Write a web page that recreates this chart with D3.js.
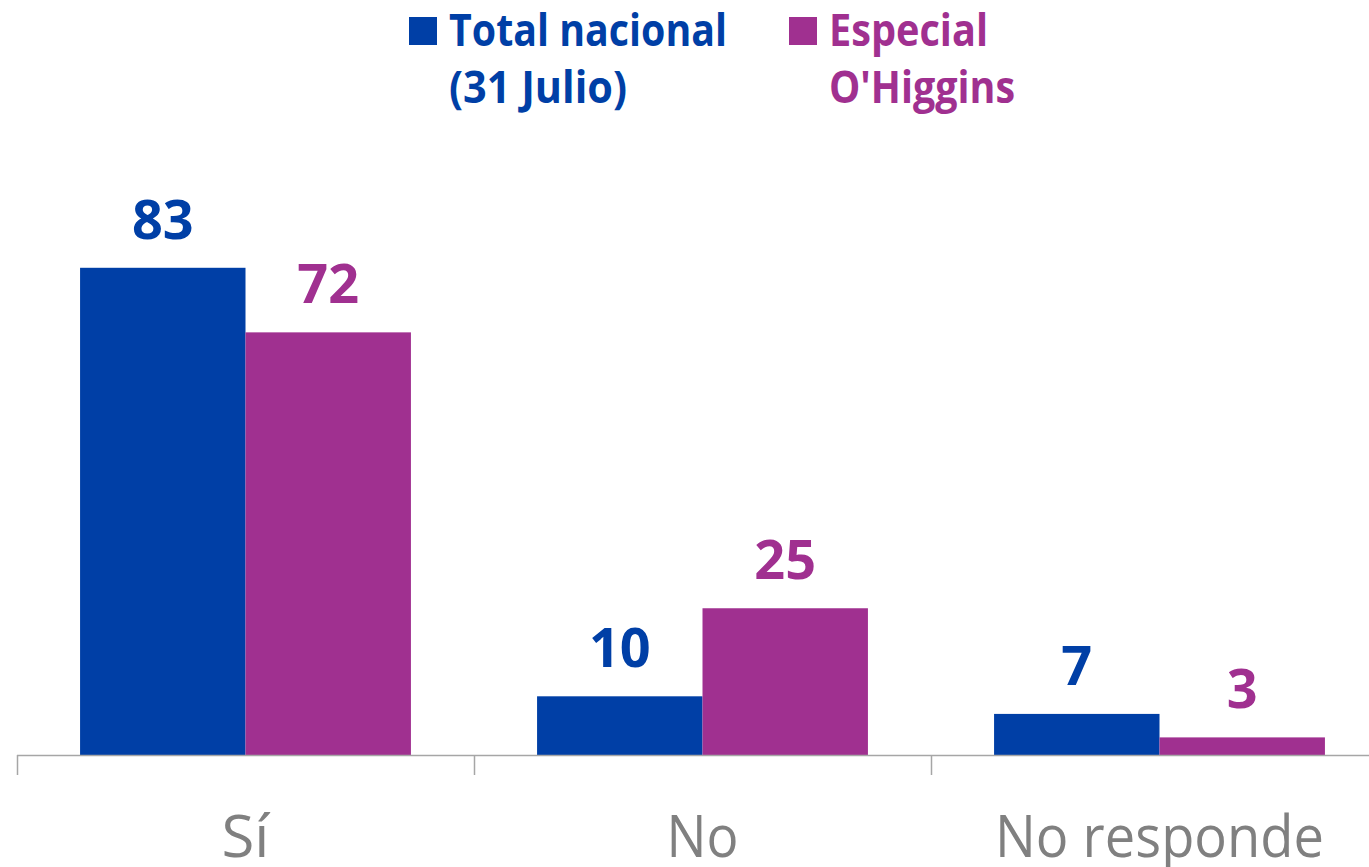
<!DOCTYPE html>
<html><head><meta charset="utf-8">
<script src="https://cdn.jsdelivr.net/npm/d3@7"></script>
<style>body{margin:0;background:#fff}svg{display:block}</style>
</head><body>
<script>
const categories = ["Sí", "No", "No responde"];
const seriesNames = [["Total nacional", "(31 Julio)"], ["Especial", "O'Higgins"]];
const totalNacional = [83, 10, 7];
const especialOHiggins = [72, 25, 3];
const colors = ["#003FA6", "#A03090"];

const W = 1369, H = 867;
const svg = d3.select("body").append("svg").attr("width", W).attr("height", H);
const font = "'Open Sans', 'Liberation Sans', sans-serif";

const x = d3.scaleBand().domain(categories).range([17, 17 + 3 * 457]).paddingInner(0.276).paddingOuter(0.138);
const xs = d3.scaleBand().domain([0, 1]).range([0, x.bandwidth()]);
const y = d3.scaleLinear().domain([0, 100]).range([755, 755 - 587]);

const series = [totalNacional, especialOHiggins];

series.forEach((vals, si) => {
  svg.append("g").selectAll("rect").data(vals).join("rect")
    .attr("x", (d, i) => x(categories[i]) + xs(si))
    .attr("y", d => y(d))
    .attr("width", xs.bandwidth())
    .attr("height", d => y(0) - y(d))
    .attr("fill", colors[si]);
  svg.append("g").selectAll("text").data(vals).join("text")
    .attr("x", (d, i) => x(categories[i]) + xs(si) + xs.bandwidth() / 2)
    .attr("y", d => y(d) - 29)
    .attr("text-anchor", "middle")
    .attr("font-family", font).attr("font-weight", 700).attr("font-size", 54)
    .attr("fill", colors[si])
    .text(d => d);
});

// axis
const axis = svg.append("g");
axis.append("line").attr("x1", 17).attr("x2", W).attr("y1", 755.5).attr("y2", 755.5)
  .attr("stroke", "#A6A6A6").attr("stroke-width", 1.5);
const tickPos = categories.map(c => x(c) - x.step() * x.paddingOuter());
axis.selectAll("line.t").data(tickPos).join("line").attr("class", "t")
  .attr("x1", d => d + 0.5).attr("x2", d => d + 0.5).attr("y1", 755).attr("y2", 775)
  .attr("stroke", "#A6A6A6").attr("stroke-width", 1.5);
const labelWidths = [48, 72, 329];
axis.selectAll("text").data(categories).join("text")
  .attr("x", d => x(d) + x.bandwidth() / 2)
  .attr("y", 857)
  .attr("text-anchor", "middle")
  .attr("font-family", font).attr("font-size", 58)
  .attr("fill", "#808080")
  .attr("textLength", (d, i) => labelWidths[i]).attr("lengthAdjust", "spacingAndGlyphs")
  .text(d => d);

// legend
const legX = [409, 789];
const lineWidths = [[278, 178], [159, 186]];
seriesNames.forEach((lines, si) => {
  const g = svg.append("g");
  g.append("rect").attr("x", legX[si]).attr("y", 17).attr("width", 28).attr("height", 28).attr("fill", colors[si]);
  lines.forEach((t, li) => {
    g.append("text").attr("x", legX[si] + 40).attr("y", 46 + li * 57)
      .attr("font-family", font).attr("font-weight", 700).attr("font-size", 44)
      .attr("fill", colors[si])
      .attr("textLength", lineWidths[si][li]).attr("lengthAdjust", "spacingAndGlyphs")
      .text(t);
  });
});
</script>
</body></html>
